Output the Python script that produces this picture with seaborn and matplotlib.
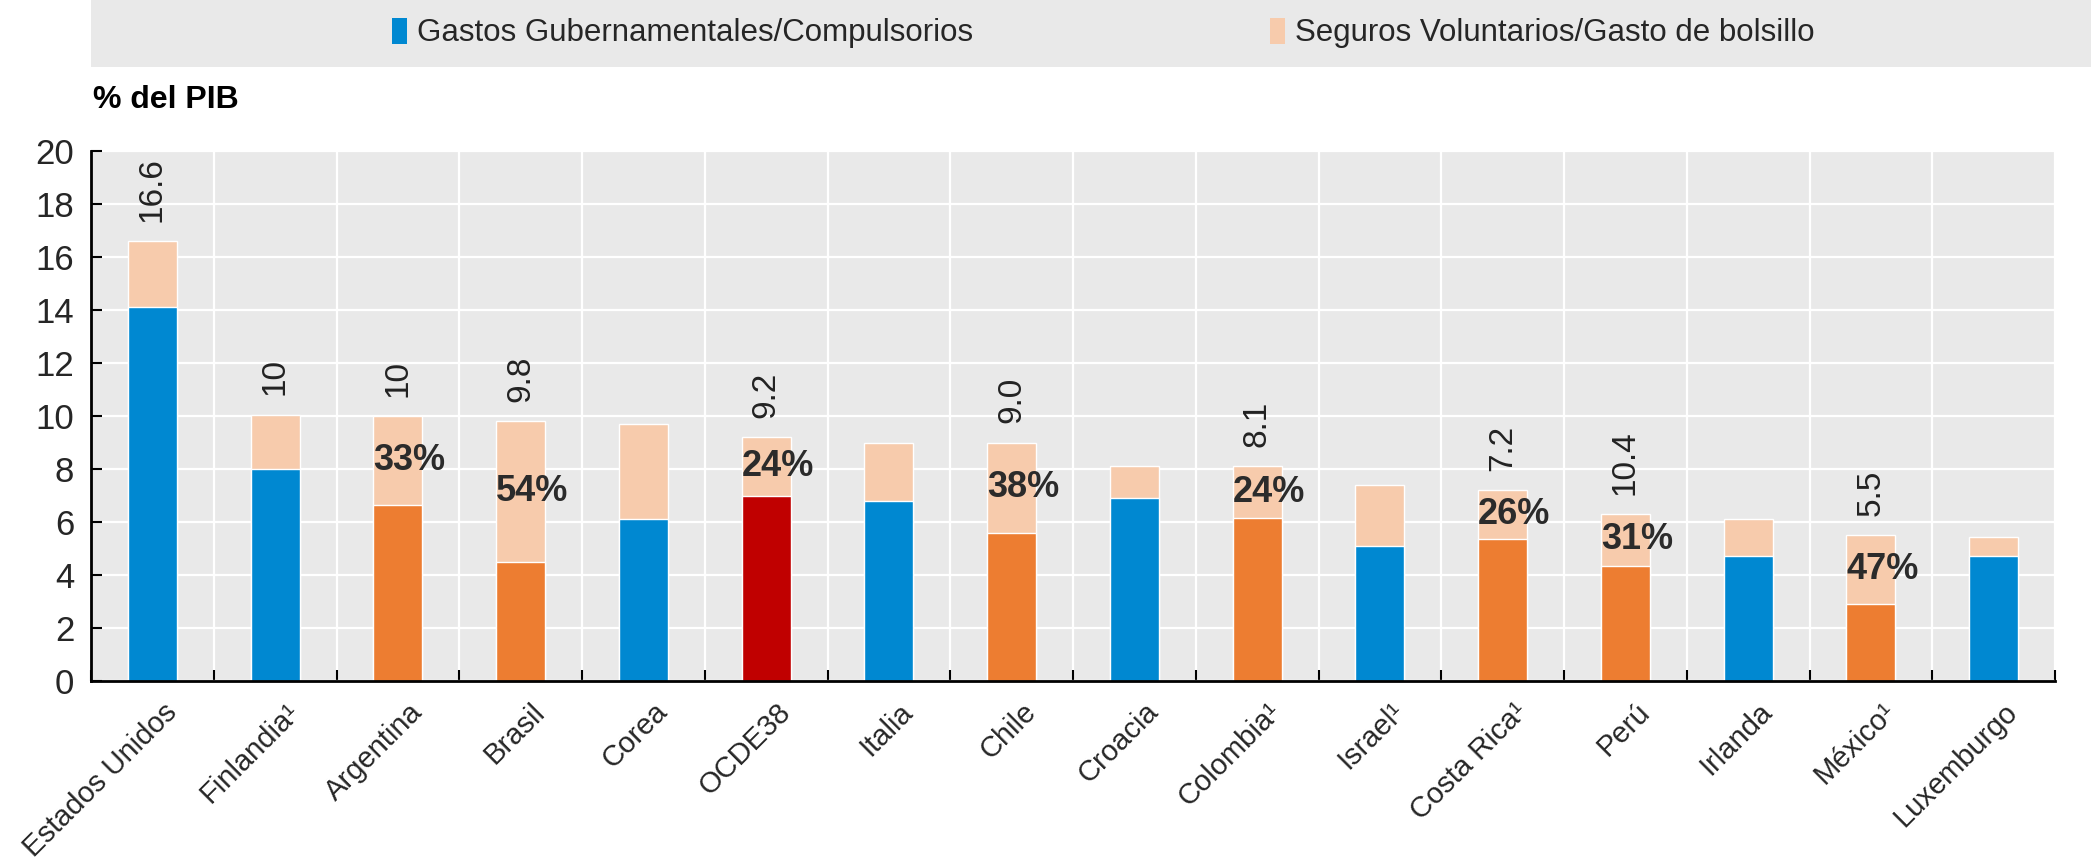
import numpy as np
import pandas as pd
import matplotlib
matplotlib.use("Agg")
import matplotlib.pyplot as plt
import matplotlib.transforms as mtransforms
from matplotlib import font_manager as fm
from matplotlib.patches import Rectangle, Patch
import seaborn as sns

# ---------------- data ----------------
countries = ["Estados Unidos", "Finlandia¹", "Argentina", "Brasil", "Corea", "OCDE38",
             "Italia", "Chile", "Croacia", "Colombia¹", "Israel¹", "Costa Rica¹",
             "Perú", "Irlanda", "México¹", "Luxemburgo"]
total_spend = [16.6, 10.05, 10.0, 9.8, 9.7, 9.2, 9.0, 9.0, 8.1, 8.1, 7.4, 7.2, 6.3, 6.1, 5.5, 5.45]
gov_spend = [14.1, 8.0, 6.65, 4.5, 6.1, 7.0, 6.8, 5.6, 6.9, 6.15, 5.1, 5.35, 4.35, 4.7, 2.9, 4.7]
group = ["oecd", "oecd", "latam", "latam", "oecd", "avg", "oecd", "latam", "oecd", "latam",
         "oecd", "latam", "latam", "oecd", "latam", "oecd"]
top_labels = ["16.6", "10", "10", "9.8", "", "9.2", "", "9.0", "", "8.1", "", "7.2", "10.4", "", "5.5", ""]
share_labels = ["", "", "33%", "54%", "", "24%", "", "38%", "", "24%", "", "26%", "31%", "", "47%", ""]
legend_labels = ["Gastos Gubernamentales/Compulsorios", "Seguros Voluntarios/Gasto de bolsillo"]
y_ticks = [0, 2, 4, 6, 8, 10, 12, 14, 16, 18, 20]

# ---------------- style ----------------
BLUE = "#0088D1"
ORANGE = "#ED7D31"
RED = "#C00000"
PEACH = "#F7CBAC"
BG = "#E9E9E9"
group_colors = {"oecd": BLUE, "latam": ORANGE, "avg": RED}

sns.set_theme(style="white")
names = {f.name for f in fm.fontManager.ttflist}
narrow = "Liberation Sans Narrow" if "Liberation Sans Narrow" in names else "Liberation Sans"
plt.rcParams["font.family"] = [narrow, "DejaVu Sans"]
FS_Y = 25
FS_X = 21
FS_LEG = 22.5
FS_TOP = 24
FS_PCT = 26

df = pd.DataFrame({"pais": countries, "total": total_spend, "gob": gov_spend, "grupo": group})
palette = [group_colors[g] for g in group]

fig = plt.figure(figsize=(20.91, 8.65), dpi=100)
ax = fig.add_axes([91 / 2091, 1 - 681 / 865, (2055 - 91) / 2091, (681 - 151) / 865])
ax.set_facecolor(BG)

W = 0.4
sns.barplot(data=df, x="pais", y="total", color=PEACH, saturation=1, width=W, ax=ax,
            errorbar=None, zorder=3)
sns.barplot(data=df, x="pais", y="gob", hue="pais", palette=palette, saturation=1, width=W,
            ax=ax, errorbar=None, legend=False, zorder=3)

ax.set_xlim(-0.5, len(countries) - 0.5)
ax.set_ylim(0, 20)
ax.set_yticks(y_ticks)
ax.set_xlabel("")
ax.set_ylabel("")

# grid: horizontal at major y, vertical at category boundaries
ax.set_xticks(np.arange(-0.5, len(countries), 1.0), minor=True)
ax.grid(False)
ax.yaxis.grid(True, color="white", linewidth=1.6, zorder=0)
ax.xaxis.grid(True, which="minor", color="white", linewidth=1.6, zorder=0)
ax.set_axisbelow(True)

for s in ["top", "right"]:
    ax.spines[s].set_visible(False)
for s in ["left", "bottom"]:
    ax.spines[s].set_color("black")
    ax.spines[s].set_linewidth(2)
    ax.spines[s].set_zorder(5)

ax.tick_params(axis="y", which="major", direction="in", length=8, width=1.5, color="black",
               labelsize=FS_Y, left=True, pad=12)
ax.tick_params(axis="x", which="major", length=0, labelsize=FS_X, pad=12)
ax.tick_params(axis="x", which="minor", direction="in", length=8, width=1.5, color="black",
               bottom=True)
ax.set_xticks(range(len(countries)))
ax.set_xticklabels(countries, rotation=45, ha="right", rotation_mode="anchor", fontsize=FS_X)
shift = mtransforms.ScaledTranslation(10 / 100, 0, fig.dpi_scale_trans)
for lab in ax.get_xticklabels():
    lab.set_transform(lab.get_transform() + shift)
for lab in ax.get_yticklabels():
    lab.set_fontsize(FS_Y)

# labels above bars
for i, (lab, tot) in enumerate(zip(top_labels, total_spend)):
    if lab:
        ax.annotate(lab, xy=(i, tot), xytext=(0, 14), textcoords="offset points",
                    ha="center", va="bottom", rotation=90, fontsize=FS_TOP, color="#222222",
                    zorder=6)

# share labels inside the voluntary segment
for i, (lab, tot, gv) in enumerate(zip(share_labels, total_spend, gov_spend)):
    if lab:
        ax.text(i - W / 2, (tot + gv) / 2, lab, ha="left", va="center", fontsize=FS_PCT,
                fontweight="bold", color="#2b2b2b", zorder=6)

# y unit label
fig.text(93 / 2091, 1 - 100 / 865, "% del PIB", ha="left", va="center", fontsize=23,
         fontweight="bold", color="black")

# legend band
fig.patches.append(Rectangle((91 / 2091, 1 - 67 / 865), 1 - 91 / 2091, 67 / 865,
                             transform=fig.transFigure, facecolor=BG, edgecolor="none",
                             zorder=0))
handles = [Patch(facecolor=BLUE, edgecolor="none"), Patch(facecolor=PEACH, edgecolor="none")]
fig.legend(handles, legend_labels, loc="center", bbox_to_anchor=(1103 / 2091, 1 - 33 / 865),
           ncol=2, frameon=False, fontsize=FS_LEG, handlelength=0.5, handleheight=0.9,
           handletextpad=0.3, columnspacing=9.5)

fig.savefig("out.png", dpi=100, facecolor="white")
